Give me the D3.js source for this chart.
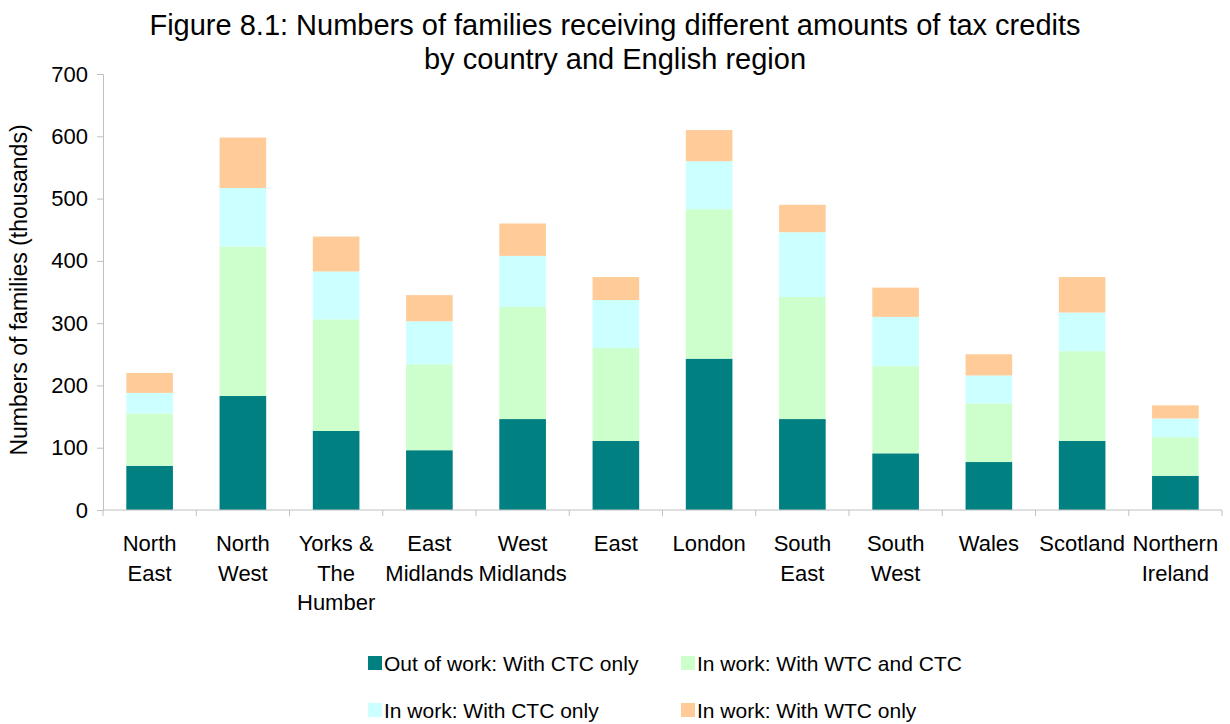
<!DOCTYPE html>
<meta charset="utf-8">
<script src="https://d3js.org/d3.v7.min.js"></script>
<style>
  body { margin: 0; background: #fff; }
  text { font-family: "Liberation Sans", Arial, sans-serif; fill: #000; }
</style>
<div id="my_dataviz"></div>
<script>

  // categories (label lines split with |)
  var regions = ["North|East", "North|West", "Yorks &|The|Humber", "East|Midlands", "West|Midlands",
                 "East", "London", "South|East", "South|West", "Wales", "Scotland", "Northern|Ireland"];

  // series values, thousands of families
  var outOfWorkCTC = [71, 183, 127, 96, 146, 111, 243, 146, 91, 77, 111, 55];
  var inWorkWTCandCTC = [84, 240, 179, 138, 180, 149, 240, 196, 140, 94, 144, 62];
  var inWorkCTC = [33, 94, 77, 69, 82, 77, 77, 104, 79, 45, 62, 30];
  var inWorkWTC = [32, 81, 56, 42, 52, 37, 50, 44, 47, 34, 57, 21];

  var seriesNames = ["Out of work: With CTC only", "In work: With WTC and CTC",
                     "In work: With CTC only", "In work: With WTC only"];
  var colors = ["#008080", "#CCFFCC", "#CCFFFF", "#FFCC99"];
  var yTicks = [0, 100, 200, 300, 400, 500, 600, 700];

  var W = 1230, H = 724;
  var margin = {top: 74, right: 8, bottom: 214, left: 103},
      width = W - margin.left - margin.right,
      height = H - margin.top - margin.bottom;

  var svg = d3.select("#my_dataviz")
    .append("svg")
      .attr("width", W)
      .attr("height", H);

  var g = svg.append("g")
      .attr("transform", "translate(" + margin.left + "," + margin.top + ")");

  // build table for the stack
  var keys = ["a", "b", "c", "d"];
  var table = regions.map(function(r, i) {
    return {region: r, a: outOfWorkCTC[i], b: inWorkWTCandCTC[i], c: inWorkCTC[i], d: inWorkWTC[i]};
  });
  var stacked = d3.stack().keys(keys)(table);

  var x = d3.scaleBand()
      .domain(regions)
      .range([0, width])
      .paddingInner(0.5)
      .paddingOuter(0.25);

  var y = d3.scaleLinear()
      .domain([0, 700])
      .range([height, 0]);

  // y axis
  var yAxis = g.append("g")
      .call(d3.axisLeft(y).tickValues(yTicks).tickSize(6).tickPadding(9));
  yAxis.select(".domain").attr("stroke", "#c0c0c0");
  yAxis.selectAll(".tick line").attr("stroke", "#c0c0c0");
  yAxis.selectAll(".tick text")
      .style("font-size", "22px")
      .style("font-family", "Liberation Sans, Arial, sans-serif");

  // bars
  g.selectAll("g.layer")
    .data(stacked)
    .enter().append("g")
      .attr("class", "layer")
      .attr("fill", function(d, i) { return colors[i]; })
    .selectAll("rect")
    .data(function(d) { return d; })
    .enter().append("rect")
      .attr("x", function(d) { return x(d.data.region); })
      .attr("y", function(d) { return y(d[1]); })
      .attr("width", x.bandwidth())
      .attr("height", function(d) { return y(d[0]) - y(d[1]); });

  // x axis with boundary ticks
  var step = width / regions.length;
  g.append("line")
      .attr("x1", 0).attr("x2", width)
      .attr("y1", height).attr("y2", height)
      .attr("stroke", "#c0c0c0");
  g.selectAll("line.xtick")
    .data(d3.range(regions.length + 1))
    .enter().append("line")
      .attr("class", "xtick")
      .attr("x1", function(d) { return d * step; })
      .attr("x2", function(d) { return d * step; })
      .attr("y1", height).attr("y2", height + 6)
      .attr("stroke", "#c0c0c0");

  // category labels
  g.selectAll("text.cat")
    .data(regions)
    .enter().append("text")
      .attr("class", "cat")
      .attr("text-anchor", "middle")
      .style("font-size", "22px")
      .attr("transform", function(d) {
        return "translate(" + (x(d) + x.bandwidth() / 2) + "," + (height + 41) + ")";
      })
    .selectAll("tspan")
    .data(function(d) { return d.split("|"); })
    .enter().append("tspan")
      .attr("x", 0)
      .attr("dy", function(d, i) { return i == 0 ? 0 : 29.5; })
      .text(function(d) { return d; });

  // y axis title
  svg.append("text")
      .attr("text-anchor", "middle")
      .style("font-size", "23px")
      .attr("transform", "translate(27,290) rotate(-90)")
      .text("Numbers of families (thousands)");

  // title
  var title = svg.append("text")
      .attr("text-anchor", "middle")
      .style("font-size", "29px");
  title.append("tspan").attr("x", 615).attr("y", 35)
      .text("Figure 8.1: Numbers of families receiving different amounts of tax credits");
  title.append("tspan").attr("x", 615).attr("y", 69)
      .text("by country and English region");

  // legend
  var legendPos = [[368, 671], [681, 671], [368, 718], [681, 718]];
  var legend = svg.selectAll("g.legend")
    .data(seriesNames)
    .enter().append("g")
      .attr("class", "legend")
      .attr("transform", function(d, i) { return "translate(" + legendPos[i][0] + "," + legendPos[i][1] + ")"; });
  legend.append("rect")
      .attr("x", 0).attr("y", -15)
      .attr("width", 14).attr("height", 14)
      .attr("fill", function(d, i) { return colors[i]; });
  legend.append("text")
      .attr("x", 16).attr("y", 0)
      .style("font-size", "21px")
      .text(function(d) { return d; });

</script>
